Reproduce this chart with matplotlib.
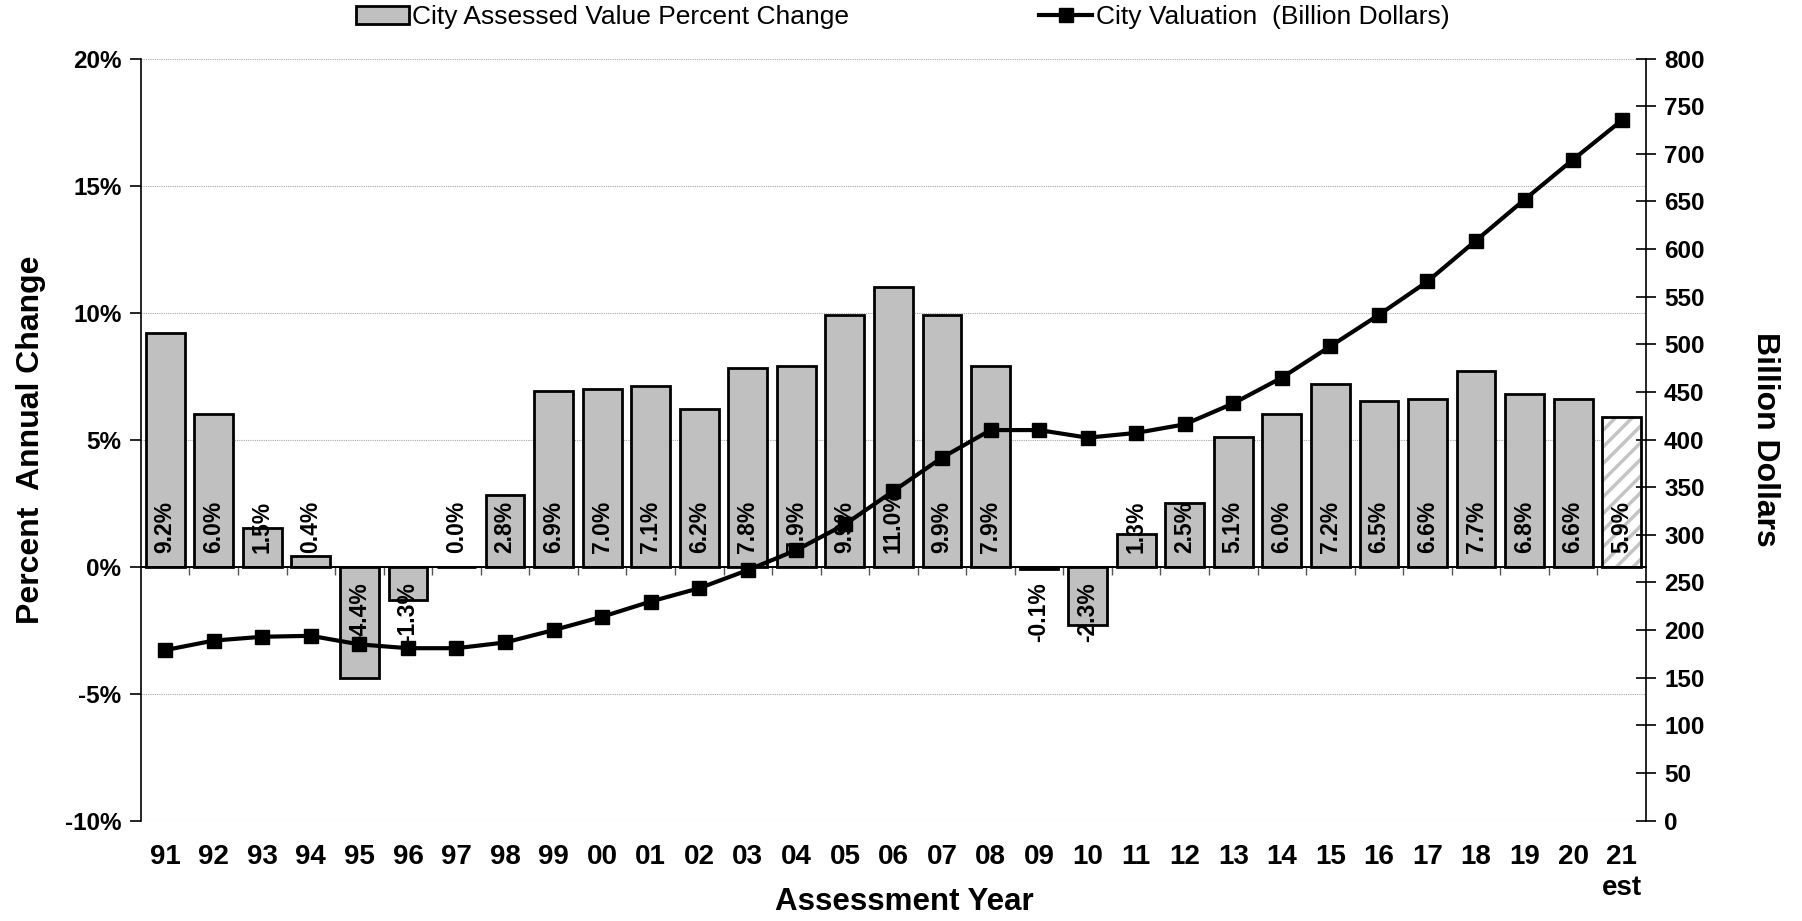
import matplotlib
matplotlib.use("Agg")
import matplotlib.pyplot as plt
from matplotlib.patches import Patch
from matplotlib.lines import Line2D

plt.rcParams['font.family'] = ['Liberation Sans', 'DejaVu Sans']
plt.rcParams['hatch.linewidth'] = 2.5

# données
years = ["91", "92", "93", "94", "95", "96", "97", "98", "99", "00", "01", "02",
         "03", "04", "05", "06", "07", "08", "09", "10", "11", "12", "13", "14",
         "15", "16", "17", "18", "19", "20", "21\nest"]
pct_change = [9.2, 6.0, 1.5, 0.4, -4.4, -1.3, 0.0, 2.8, 6.9, 7.0, 7.1, 6.2,
              7.8, 7.9, 9.9, 11.0, 9.9, 7.9, -0.1, -2.3, 1.3, 2.5, 5.1, 6.0,
              7.2, 6.5, 6.6, 7.7, 6.8, 6.6, 5.9]
valuation = [179, 189, 193, 194, 185, 181, 181, 187, 200, 214, 230, 244,
             263, 284, 311, 346, 381, 410, 410, 402, 407, 416, 438, 465,
             498, 531, 566, 609, 652, 694, 735]

x = list(range(len(years)))

fig = plt.figure(figsize=(18.02, 9.21), dpi=100)
ax = fig.add_axes([0.0782, 0.109, 0.9134 - 0.0782, 0.9364 - 0.109])

# barres (la dernière = estimation, hachurée)
ax.bar(x[:-1], pct_change[:-1], width=0.8, color="#c0c0c0",
       edgecolor="black", linewidth=2, zorder=3)
ax.bar(x[-1], pct_change[-1], width=0.8, color="white", edgecolor="#c4c4c4",
       hatch="//", linewidth=0, zorder=3)
ax.bar(x[-1], pct_change[-1], width=0.8, fill=False, edgecolor="black",
       linewidth=2, zorder=4)

# étiquettes des barres
for i, v in enumerate(pct_change):
    if v >= 0:
        ax.annotate(f"{v:.1f}%", xy=(i, 0), xytext=(0, 10), textcoords="offset points",
                    rotation=90, ha="center", va="bottom", fontsize=16.5,
                    fontweight="bold", zorder=5)
    else:
        ax.annotate(f"{v:.1f}%", xy=(i, 0), xytext=(0, -11), textcoords="offset points",
                    rotation=90, ha="center", va="top", fontsize=16.5,
                    fontweight="bold", zorder=5)

ax.set_xlim(-0.5, len(years) - 0.5)
ax.set_ylim(-10, 20)
ax.set_yticks(range(-10, 21, 5))
ax.set_yticklabels([f"{t}%" for t in range(-10, 21, 5)], fontsize=17.5, fontweight="bold")
ax.yaxis.grid(True, color="#a8a8a8", linestyle=(0, (1, 1)), linewidth=0.8)
ax.set_axisbelow(True)
ax.tick_params(axis="y", direction="out", length=8, width=1.2, pad=6)

for s in ["top", "right"]:
    ax.spines[s].set_visible(False)
ax.spines["left"].set_linewidth(1.2)
# axe des x à 0 avec petites graduations entre les catégories
ax.spines["bottom"].set_position(("data", 0))
ax.spines["bottom"].set_linewidth(1.4)
ax.spines["bottom"].set_zorder(4)
ax.set_xticks([i + 0.5 for i in x[:-1]])
ax.set_xticklabels([])
ax.tick_params(axis="x", direction="out", length=6, width=1.0, color="#555555")

sec = ax.secondary_xaxis(0)
sec.set_xticks(x)
sec.set_xticklabels(years, fontsize=20, fontweight="bold", linespacing=1.25)
sec.tick_params(length=0, pad=17)
sec.spines["bottom"].set_visible(False)

fig.text(0.502, 4 / 921, "Assessment Year", fontsize=22.5, fontweight="bold",
         ha="center", va="bottom")

ax.set_ylabel("Percent  Annual Change", fontsize=23, fontweight="bold", labelpad=14)

# axe de droite : valeur en milliards
ax2 = ax.twinx()
ax2.plot(x, valuation, color="black", linewidth=3, marker="s", markersize=10, zorder=6)
ax2.set_ylim(0, 800)
ax2.set_yticks(range(0, 801, 50))
ax2.set_yticklabels([str(t) for t in range(0, 801, 50)], fontsize=17.5, fontweight="bold")
ax2.tick_params(axis="y", direction="inout", length=14, width=1.2, pad=6)
for s in ["top", "bottom", "left"]:
    ax2.spines[s].set_visible(False)
ax2.spines["right"].set_linewidth(1.2)
ax2.set_ylabel("Billion Dollars", fontsize=23, fontweight="bold", rotation=-90, labelpad=54)

# légende
handles = [Patch(facecolor="#c0c0c0", edgecolor="black", linewidth=2),
           Line2D([], [], color="black", linewidth=3, marker="s", markersize=10)]
fig.legend(handles, ["City Assessed Value Percent Change", "City Valuation  (Billion Dollars)"],
           loc="center", bbox_to_anchor=(0.501, 1 - 17 / 921), ncol=2, frameon=False,
           fontsize=19, handlelength=2.0, handletextpad=0.15, columnspacing=7.2)

plt.savefig("out.png", dpi=100)
